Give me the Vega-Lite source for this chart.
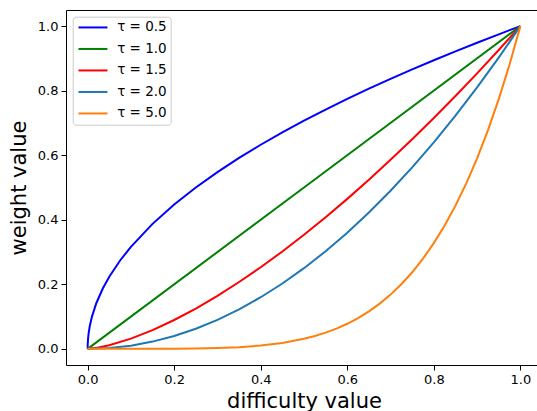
{
  "$schema": "https://vega.github.io/schema/vega-lite/v6.json",
  "width": 476,
  "height": 355,
  "autosize": {"type": "none"},
  "padding": {"left": 66, "top": 10, "right": 0, "bottom": 46},
  "background": "white",
  "config": {
    "view": {"stroke": "black", "strokeWidth": 1},
    "font": "DejaVu Sans",
    "axis": {
      "grid": false,
      "domain": false,
      "tickColor": "black",
      "tickSize": 5,
      "tickWidth": 1,
      "labelColor": "black",
      "labelFont": "DejaVu Sans",
      "labelFontSize": 13,
      "titleFont": "DejaVu Sans",
      "titleFontSize": 21,
      "titleFontWeight": "normal",
      "titleColor": "black"
    }
  },
  "data": {
    "values": [
      {"tau": "τ = 0.5", "x": 0, "y": 0},
      {"tau": "τ = 0.5", "x": 0.0002, "y": 0.01414},
      {"tau": "τ = 0.5", "x": 0.001, "y": 0.03162},
      {"tau": "τ = 0.5", "x": 0.0025, "y": 0.05},
      {"tau": "τ = 0.5", "x": 0.005, "y": 0.07071},
      {"tau": "τ = 0.5", "x": 0.01, "y": 0.1},
      {"tau": "τ = 0.5", "x": 0.02, "y": 0.14142},
      {"tau": "τ = 0.5", "x": 0.035, "y": 0.18708},
      {"tau": "τ = 0.5", "x": 0.05, "y": 0.22361},
      {"tau": "τ = 0.5", "x": 0.075, "y": 0.27386},
      {"tau": "τ = 0.5", "x": 0.1, "y": 0.31623},
      {"tau": "τ = 0.5", "x": 0.15, "y": 0.3873},
      {"tau": "τ = 0.5", "x": 0.2, "y": 0.44721},
      {"tau": "τ = 0.5", "x": 0.25, "y": 0.5},
      {"tau": "τ = 0.5", "x": 0.3, "y": 0.54772},
      {"tau": "τ = 0.5", "x": 0.35, "y": 0.59161},
      {"tau": "τ = 0.5", "x": 0.4, "y": 0.63246},
      {"tau": "τ = 0.5", "x": 0.45, "y": 0.67082},
      {"tau": "τ = 0.5", "x": 0.5, "y": 0.70711},
      {"tau": "τ = 0.5", "x": 0.55, "y": 0.74162},
      {"tau": "τ = 0.5", "x": 0.6, "y": 0.7746},
      {"tau": "τ = 0.5", "x": 0.65, "y": 0.80623},
      {"tau": "τ = 0.5", "x": 0.7, "y": 0.83666},
      {"tau": "τ = 0.5", "x": 0.75, "y": 0.86603},
      {"tau": "τ = 0.5", "x": 0.8, "y": 0.89443},
      {"tau": "τ = 0.5", "x": 0.85, "y": 0.92195},
      {"tau": "τ = 0.5", "x": 0.9, "y": 0.94868},
      {"tau": "τ = 0.5", "x": 0.95, "y": 0.97468},
      {"tau": "τ = 0.5", "x": 1, "y": 1},
      {"tau": "τ = 1.0", "x": 0, "y": 0},
      {"tau": "τ = 1.0", "x": 0.5, "y": 0.5},
      {"tau": "τ = 1.0", "x": 1, "y": 1},
      {"tau": "τ = 1.5", "x": 0, "y": 0},
      {"tau": "τ = 1.5", "x": 0.025, "y": 0.00395},
      {"tau": "τ = 1.5", "x": 0.05, "y": 0.01118},
      {"tau": "τ = 1.5", "x": 0.1, "y": 0.03162},
      {"tau": "τ = 1.5", "x": 0.15, "y": 0.05809},
      {"tau": "τ = 1.5", "x": 0.2, "y": 0.08944},
      {"tau": "τ = 1.5", "x": 0.25, "y": 0.125},
      {"tau": "τ = 1.5", "x": 0.3, "y": 0.16432},
      {"tau": "τ = 1.5", "x": 0.35, "y": 0.20706},
      {"tau": "τ = 1.5", "x": 0.4, "y": 0.25298},
      {"tau": "τ = 1.5", "x": 0.45, "y": 0.30187},
      {"tau": "τ = 1.5", "x": 0.5, "y": 0.35355},
      {"tau": "τ = 1.5", "x": 0.55, "y": 0.40789},
      {"tau": "τ = 1.5", "x": 0.6, "y": 0.46476},
      {"tau": "τ = 1.5", "x": 0.65, "y": 0.52405},
      {"tau": "τ = 1.5", "x": 0.7, "y": 0.58566},
      {"tau": "τ = 1.5", "x": 0.75, "y": 0.64952},
      {"tau": "τ = 1.5", "x": 0.8, "y": 0.71554},
      {"tau": "τ = 1.5", "x": 0.85, "y": 0.78366},
      {"tau": "τ = 1.5", "x": 0.9, "y": 0.85381},
      {"tau": "τ = 1.5", "x": 0.95, "y": 0.92595},
      {"tau": "τ = 1.5", "x": 1, "y": 1},
      {"tau": "τ = 2.0", "x": 0, "y": 0},
      {"tau": "τ = 2.0", "x": 0.05, "y": 0.0025},
      {"tau": "τ = 2.0", "x": 0.1, "y": 0.01},
      {"tau": "τ = 2.0", "x": 0.15, "y": 0.0225},
      {"tau": "τ = 2.0", "x": 0.2, "y": 0.04},
      {"tau": "τ = 2.0", "x": 0.25, "y": 0.0625},
      {"tau": "τ = 2.0", "x": 0.3, "y": 0.09},
      {"tau": "τ = 2.0", "x": 0.35, "y": 0.1225},
      {"tau": "τ = 2.0", "x": 0.4, "y": 0.16},
      {"tau": "τ = 2.0", "x": 0.45, "y": 0.2025},
      {"tau": "τ = 2.0", "x": 0.5, "y": 0.25},
      {"tau": "τ = 2.0", "x": 0.55, "y": 0.3025},
      {"tau": "τ = 2.0", "x": 0.6, "y": 0.36},
      {"tau": "τ = 2.0", "x": 0.65, "y": 0.4225},
      {"tau": "τ = 2.0", "x": 0.7, "y": 0.49},
      {"tau": "τ = 2.0", "x": 0.75, "y": 0.5625},
      {"tau": "τ = 2.0", "x": 0.8, "y": 0.64},
      {"tau": "τ = 2.0", "x": 0.85, "y": 0.7225},
      {"tau": "τ = 2.0", "x": 0.9, "y": 0.81},
      {"tau": "τ = 2.0", "x": 0.95, "y": 0.9025},
      {"tau": "τ = 2.0", "x": 1, "y": 1},
      {"tau": "τ = 5.0", "x": 0, "y": 0},
      {"tau": "τ = 5.0", "x": 0.1, "y": 0.00001},
      {"tau": "τ = 5.0", "x": 0.2, "y": 0.00032},
      {"tau": "τ = 5.0", "x": 0.25, "y": 0.00098},
      {"tau": "τ = 5.0", "x": 0.3, "y": 0.00243},
      {"tau": "τ = 5.0", "x": 0.35, "y": 0.00525},
      {"tau": "τ = 5.0", "x": 0.4, "y": 0.01024},
      {"tau": "τ = 5.0", "x": 0.45, "y": 0.01845},
      {"tau": "τ = 5.0", "x": 0.5, "y": 0.03125},
      {"tau": "τ = 5.0", "x": 0.525, "y": 0.03988},
      {"tau": "τ = 5.0", "x": 0.55, "y": 0.05033},
      {"tau": "τ = 5.0", "x": 0.575, "y": 0.06286},
      {"tau": "τ = 5.0", "x": 0.6, "y": 0.07776},
      {"tau": "τ = 5.0", "x": 0.625, "y": 0.09537},
      {"tau": "τ = 5.0", "x": 0.65, "y": 0.11603},
      {"tau": "τ = 5.0", "x": 0.675, "y": 0.14013},
      {"tau": "τ = 5.0", "x": 0.7, "y": 0.16807},
      {"tau": "τ = 5.0", "x": 0.725, "y": 0.20031},
      {"tau": "τ = 5.0", "x": 0.75, "y": 0.2373},
      {"tau": "τ = 5.0", "x": 0.775, "y": 0.27958},
      {"tau": "τ = 5.0", "x": 0.8, "y": 0.32768},
      {"tau": "τ = 5.0", "x": 0.825, "y": 0.38218},
      {"tau": "τ = 5.0", "x": 0.85, "y": 0.44371},
      {"tau": "τ = 5.0", "x": 0.875, "y": 0.51291},
      {"tau": "τ = 5.0", "x": 0.9, "y": 0.59049},
      {"tau": "τ = 5.0", "x": 0.925, "y": 0.67719},
      {"tau": "τ = 5.0", "x": 0.95, "y": 0.77378},
      {"tau": "τ = 5.0", "x": 0.975, "y": 0.8811},
      {"tau": "τ = 5.0", "x": 1, "y": 1}
    ]
  },
  "mark": {"type": "line", "strokeWidth": 2, "clip": true},
  "encoding": {
    "x": {
      "field": "x",
      "type": "quantitative",
      "scale": {"domain": [-0.05, 1.05], "nice": false, "zero": false},
      "axis": {"values": [0, 0.2, 0.4, 0.6, 0.8, 1.0], "format": ".1f", "title": "difficulty value", "labelPadding": 3, "titlePadding": 4}
    },
    "y": {
      "field": "y",
      "type": "quantitative",
      "scale": {"domain": [-0.05, 1.05], "nice": false, "zero": false},
      "axis": {"values": [0, 0.2, 0.4, 0.6, 0.8, 1.0], "format": ".1f", "title": "weight value", "labelPadding": 3, "titlePadding": 8}
    },
    "color": {
      "field": "tau",
      "type": "nominal",
      "scale": {
        "domain": ["τ = 0.5", "τ = 1.0", "τ = 1.5", "τ = 2.0", "τ = 5.0"],
        "range": ["#0000ff", "#008000", "#ff0000", "#1f77b4", "#ff7f0e"]
      },
      "legend": {
        "title": null,
        "orient": "none",
        "legendX": 6.7,
        "legendY": 6.7,
        "symbolType": "M-1,0H4.8",
        "symbolSize": 100,
        "symbolStrokeWidth": 2,
        "labelFont": "DejaVu Sans",
        "labelFontSize": 13.5,
        "labelColor": "black",
        "labelOffset": 27,
        "rowPadding": 6.5,
        "padding": 4,
        "fillColor": "white",
        "strokeColor": "#cccccc",
        "cornerRadius": 3
      }
    }
  }
}
